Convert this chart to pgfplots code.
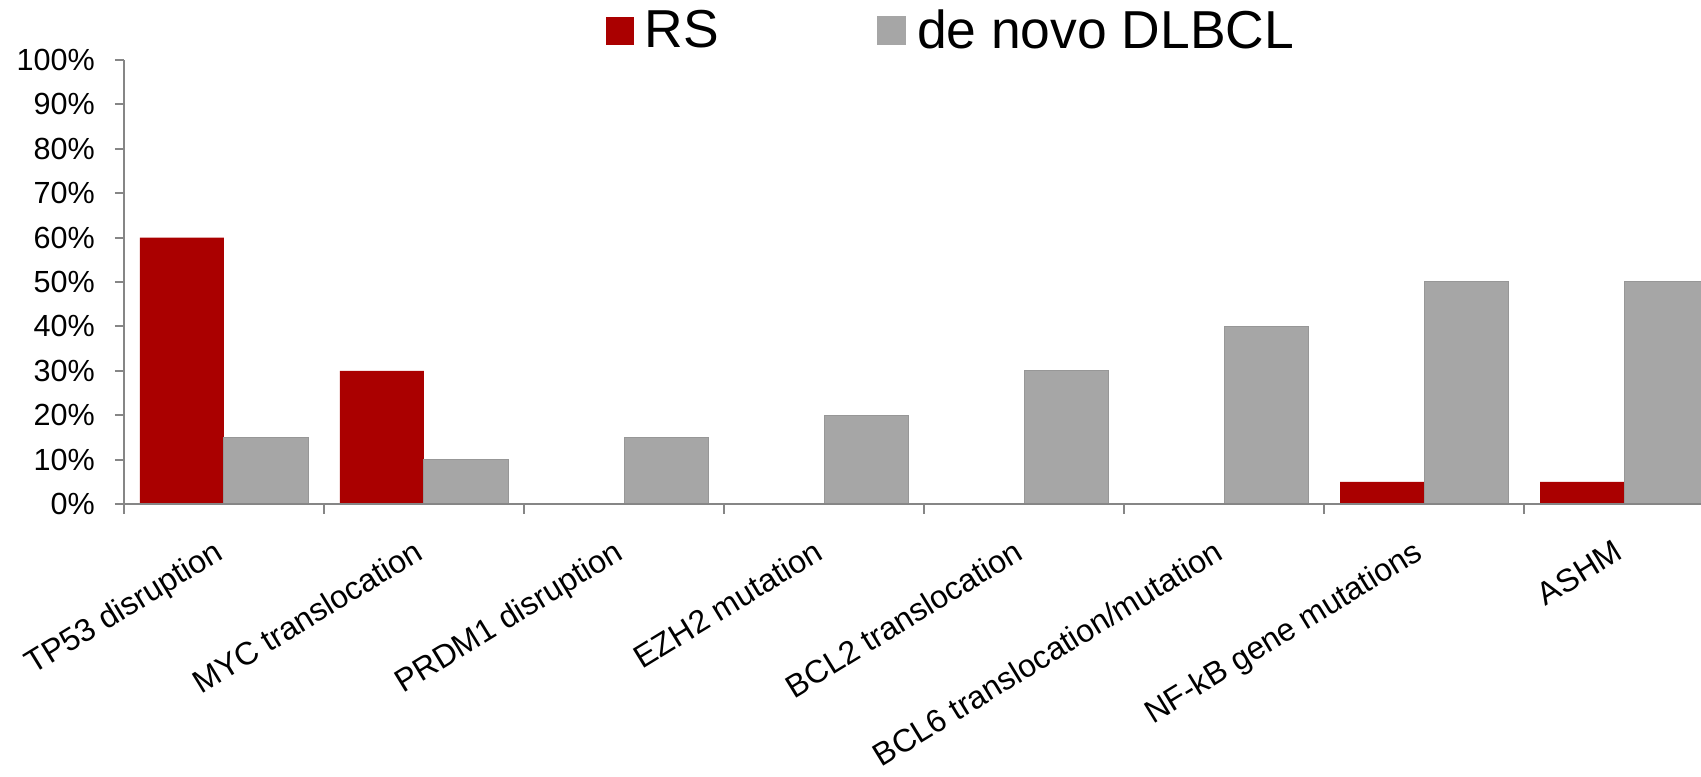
\documentclass[border=0pt]{standalone}
\usepackage{fontspec}
\setmainfont{Liberation Sans}
\usepackage{pgfplots}
\usepackage{pgfplotstable}
\pgfplotsset{compat=1.18}

\definecolor{rsred}{HTML}{AA0000}
\definecolor{dlgray}{HTML}{A6A6A6}
\definecolor{dledge}{HTML}{979797}
\definecolor{axisgray}{HTML}{868686}

% share of cases (%) per alteration
\pgfplotstableread{
idx rs dlbcl
0   60 15
1   30 10
2   0  15
3   0  20
4   0  30
5   0  40
6   5  50
7   5  50
}\alterations

\begin{document}
\begin{tikzpicture}
\path[use as bounding box] (-43.4pt,-95.55pt) rectangle (551.95pt,176.4pt);
\begin{axis}[
  scale only axis, width=551.95pt, height=155.4pt,
  xmin=-0.5, xmax=7.385, ymin=0, ymax=100,
  ybar=0pt, bar width=29.4pt,
  axis on top,
  axis x line*=bottom, axis y line*=left,
  axis line style={draw=axisgray, line width=0.7pt},
  tick align=outside,
  major tick length=3.15pt, minor tick length=3.5pt,
  /pgf/number format/assume math mode=true,
  ytick={0,10,...,100},
  yticklabel={\pgfmathprintnumber{\tick}\%},
  ytick style={draw=axisgray, line width=0.7pt},
  yticklabel style={font=\fontsize{10.7}{12}\selectfont, anchor=east, xshift=-3.5pt},
  xtick={0,...,7},
  xticklabels={TP53 disruption, MYC translocation, PRDM1 disruption, EZH2 mutation, BCL2 translocation, BCL6 translocation/mutation, NF-kB gene mutations, ASHM},
  minor xtick={-0.5,0.5,...,6.5},
  major x tick style={draw=none},
  minor x tick style={draw=axisgray, line width=0.7pt},
  % shift first, then turn the label
  xticklabel style={font=\fontsize{11.2}{13}\selectfont, yshift=-15.6pt, xshift=0.4pt,
    rotate=31.5, anchor=base east, inner sep=0pt},
  legend columns=2,
  legend style={at={(0.305,1.0653)}, anchor=west, draw=none, fill=none,
    inner sep=0pt, font=\fontsize{18.7}{22}\selectfont,
    /tikz/every odd column/.style={column sep=1.9pt},
    /tikz/every even column/.style={column sep=53.3pt}},
]
\addplot[fill=rsred, draw=none,
  legend image code/.code={\fill[rsred] (0pt,-4.9pt) rectangle (9.8pt,4.9pt);}]
  table[x=idx, y=rs] {\alterations};
\addplot[fill=dlgray, draw=dledge, line width=0.35pt,
  legend image code/.code={\fill[dlgray] (0pt,-4.9pt) rectangle (9.8pt,4.9pt);}]
  table[x=idx, y=dlbcl] {\alterations};
\legend{RS, de novo DLBCL}
\end{axis}
\end{tikzpicture}
\end{document}
